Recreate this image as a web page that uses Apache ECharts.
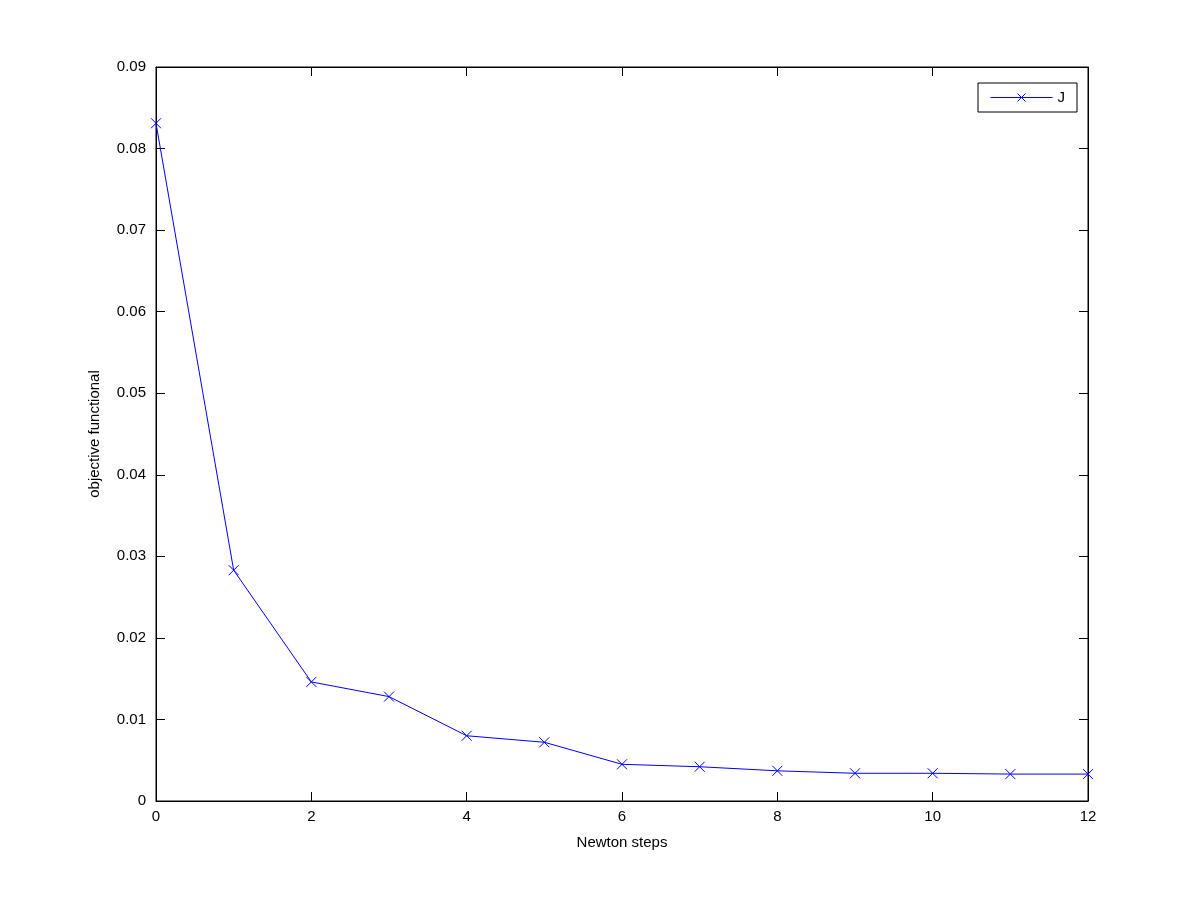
<!DOCTYPE html>
<html>
<head>
<meta charset="utf-8">
<script src="https://cdn.jsdelivr.net/npm/echarts@6/dist/echarts.min.js"></script>
<style>
  html, body { margin: 0; padding: 0; background: #fff; }
  #chart { width: 1201px; height: 901px; }
</style>
</head>
<body>
<div id="chart"></div>
<script>
  // Newton steps vs objective functional J
  const steps = [0, 1, 2, 3, 4, 5, 6, 7, 8, 9, 10, 11, 12];
  const jValues = [0.0831, 0.0283, 0.0146, 0.0128, 0.0080, 0.0072, 0.0045, 0.0042, 0.0037, 0.0034, 0.0034, 0.0033, 0.0033];

  const font = 'Liberation Sans, Arial, Helvetica, sans-serif';
  const chart = echarts.init(document.getElementById('chart'));

  const tickStyle = { show: true, inside: true, length: 9, lineStyle: { color: '#000', width: 1 } };
  // onZero off, otherwise the mirror axes jump onto the 0 of the other axis
  const lineStyle = { show: true, onZero: false, lineStyle: { color: '#000', width: 1 } };

  chart.setOption({
    animation: false,
    backgroundColor: '#fff',
    grid: { left: 156, right: 113, top: 67, bottom: 100, show: true, borderColor: '#000', borderWidth: 1 },
    legend: {
      data: ['J'],
      right: 124, top: 83,
      orient: 'vertical',
      itemWidth: 62, itemHeight: 10, itemGap: 0,
      padding: [7, 12, 7, 12],
      borderColor: '#000', borderWidth: 1, borderRadius: 0,
      backgroundColor: '#fff',
      lineStyle: { width: 1 },
      itemStyle: { borderWidth: 1 },
      textStyle: { fontFamily: font, fontSize: 15, color: '#000' }
    },
    xAxis: [{
      type: 'value', min: 0, max: 12, interval: 2, position: 'bottom',
      name: 'Newton steps', nameLocation: 'middle', nameGap: 34,
      nameTextStyle: { fontFamily: font, fontSize: 15, color: '#000' },
      axisLine: lineStyle, axisTick: tickStyle,
      axisLabel: { fontFamily: font, fontSize: 15, color: '#000', margin: 8 },
      splitLine: { show: false }
    }, {
      type: 'value', min: 0, max: 12, interval: 2, position: 'top',
      axisLine: lineStyle, axisTick: tickStyle,
      axisLabel: { show: false }, splitLine: { show: false }
    }],
    yAxis: [{
      type: 'value', min: 0, max: 0.09, interval: 0.01, position: 'left',
      name: 'objective functional', nameLocation: 'middle', nameGap: 54,
      nameTextStyle: { fontFamily: font, fontSize: 15, color: '#000' },
      axisLine: lineStyle, axisTick: tickStyle,
      axisLabel: { fontFamily: font, fontSize: 15, color: '#000', margin: 10,
        formatter: v => v === 0 ? '0' : v.toFixed(2) },
      splitLine: { show: false }
    }, {
      type: 'value', min: 0, max: 0.09, interval: 0.01, position: 'right',
      axisLine: lineStyle, axisTick: tickStyle,
      axisLabel: { show: false }, splitLine: { show: false }
    }],
    series: [{
      name: 'J',
      type: 'line',
      data: steps.map((s, i) => [s, jValues[i]]),
      symbol: 'path://M0,0L10,10M10,0L0,10',
      symbolSize: 10,
      showAllSymbol: true,
      lineStyle: { color: '#0000ff', width: 1 },
      itemStyle: { color: 'rgba(0,0,0,0)', borderColor: '#0000ff', borderWidth: 1 },
      emphasis: { disabled: true }
    }]
  });
</script>
</body>
</html>
